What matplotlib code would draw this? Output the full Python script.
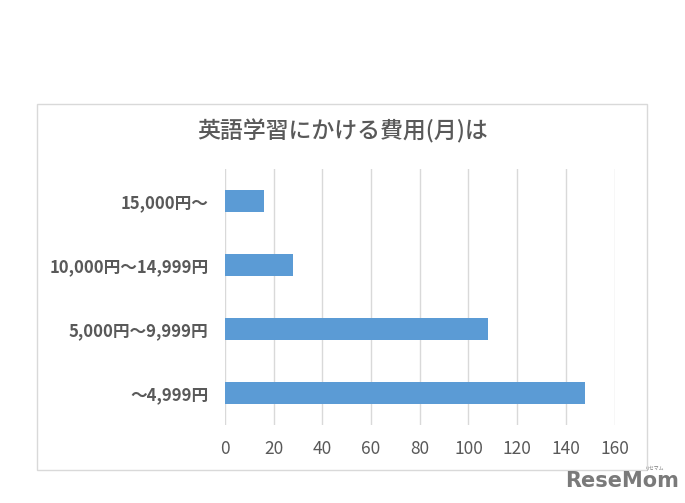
import matplotlib
matplotlib.use('Agg')
from matplotlib import pyplot as plt
from matplotlib.patches import Rectangle

plt.rcParams['font.family'] = ['Noto Sans CJK JP', 'DejaVu Sans']

categories = ['～4,999円', '5,000円～9,999円', '10,000円～14,999円', '15,000円～']
values = [148, 108, 28, 16]
xticks = [0, 20, 40, 60, 80, 100, 120, 140, 160]
title = '英語学習にかける費用(月)は'

W, H = 685, 503
fig = plt.figure(figsize=(W/100, H/100), dpi=100)

# chart frame
fig.patches.append(Rectangle((37/W, 1-470/H), (647-37)/W, (470-104)/H,
                             transform=fig.transFigure, fill=False,
                             edgecolor='#d9d9d9', lw=1.0))

ax = fig.add_axes([225/W, 1-425/H, (614.5-225)/W, (425-169)/H])
ax.barh(range(len(categories)), values, height=0.35, color='#5b9bd5', zorder=3)
ax.set_xlim(0, 160)
ax.set_ylim(-0.5, len(categories)-0.5)
ax.set_xticks(xticks)
ax.set_yticks(range(len(categories)))
ax.set_yticklabels(categories, fontsize=12, fontweight='bold', color='#595959')
ax.tick_params(axis='x', labelsize=12.5, colors='#595959', length=0, pad=11)
ax.tick_params(axis='y', length=0, pad=12)
ax.grid(axis='x', color='#d9d9d9', lw=1.0, zorder=0)
for s in ax.spines.values():
    s.set_visible(False)

fig.text(343/W, 1-131/H, title, ha='center', va='center', fontsize=16.5,
         color='#595959', fontweight='medium')

# watermark
fig.text(622/W, 1-481/H, 'ReseMom', ha='center', va='center', fontsize=15,
         fontweight='bold', color='#7a7a7a', family='DejaVu Sans')
fig.text(655/W, 1-468/H, 'リセマム', ha='center', va='center', fontsize=3.5, color='#7a7a7a')

fig.savefig('out.png', dpi=100)
